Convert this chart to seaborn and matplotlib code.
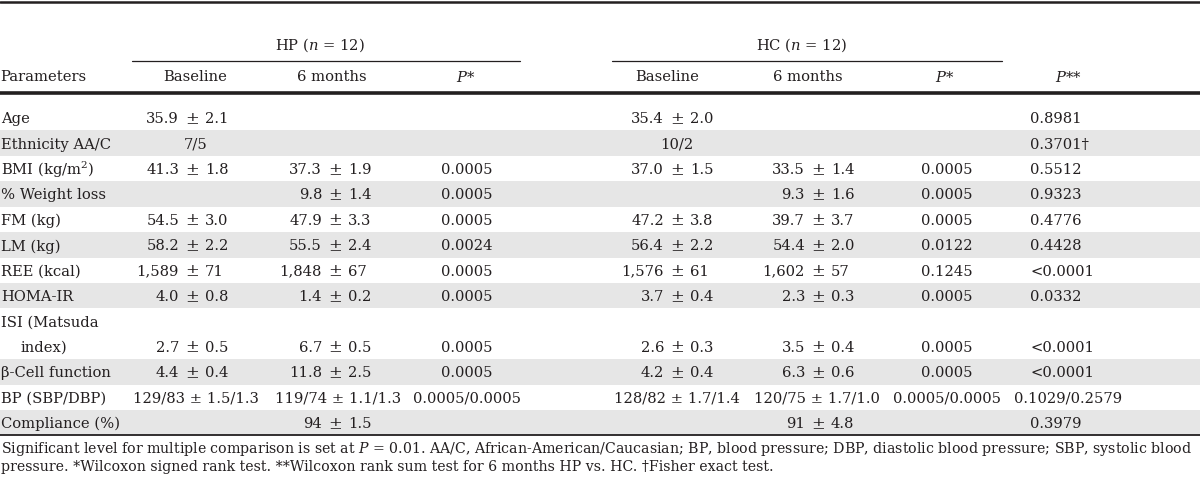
import matplotlib
matplotlib.use("Agg")
import matplotlib.pyplot as plt
import seaborn as sns

# ---------------- data ----------------
parameters = ["Age", "Ethnicity AA/C", "BMI (kg/m$^2$)", "% Weight loss", "FM (kg)", "LM (kg)",
              "REE (kcal)", "HOMA-IR", "ISI (Matsuda\nindex)", "β-Cell function", "BP (SBP/DBP)",
              "Compliance (%)"]
hp_baseline = ["35.9 ± 2.1", "7/5", "41.3 ± 1.8", "", "54.5 ± 3.0", "58.2 ± 2.2", "1,589 ± 71",
               "4.0 ± 0.8", "2.7 ± 0.5", "4.4 ± 0.4", "129/83 ± 1.5/1.3", ""]
hp_6months = ["", "", "37.3 ± 1.9", "9.8 ± 1.4", "47.9 ± 3.3", "55.5 ± 2.4", "1,848 ± 67",
              "1.4 ± 0.2", "6.7 ± 0.5", "11.8 ± 2.5", "119/74 ± 1.1/1.3", "94 ± 1.5"]
hp_p = ["", "", "0.0005", "0.0005", "0.0005", "0.0024", "0.0005", "0.0005", "0.0005", "0.0005",
        "0.0005/0.0005", ""]
hc_baseline = ["35.4 ± 2.0", "10/2", "37.0 ± 1.5", "", "47.2 ± 3.8", "56.4 ± 2.2", "1,576 ± 61",
               "3.7 ± 0.4", "2.6 ± 0.3", "4.2 ± 0.4", "128/82 ± 1.7/1.4", ""]
hc_6months = ["", "", "33.5 ± 1.4", "9.3 ± 1.6", "39.7 ± 3.7", "54.4 ± 2.0", "1,602 ± 57",
              "2.3 ± 0.3", "3.5 ± 0.4", "6.3 ± 0.6", "120/75 ± 1.7/1.0", "91 ± 4.8"]
hc_p = ["", "", "0.0005", "0.0005", "0.0005", "0.0122", "0.1245", "0.0005", "0.0005", "0.0005",
        "0.0005/0.0005", ""]
p_between = ["0.8981", "0.3701†", "0.5512", "0.9323", "0.4776", "0.4428", "<0.0001", "0.0332",
             "<0.0001", "<0.0001", "0.1029/0.2579", "0.3979"]
group_titles = ["HP ($n$ = 12)", "HC ($n$ = 12)"]
column_labels = ["Parameters", "Baseline", "6 months", "$P$*", "Baseline", "6 months", "$P$*", "$P$**"]
footnote_lines = [
    "Significant level for multiple comparison is set at $P$ = 0.01. AA/C, African-American/Caucasian; "
    "BP, blood pressure; DBP, diastolic blood pressure; SBP, systolic blood",
    "pressure. *Wilcoxon signed rank test. **Wilcoxon rank sum test for 6 months HP vs. HC. "
    "†Fisher exact test.",
]

# ---------------- style ----------------
sns.set_theme(style="white")
plt.rcParams["font.family"] = ["DejaVu Serif"]
plt.rcParams["mathtext.fontset"] = "dejavuserif"
TXT = "#231f20"
SHADE = "#e6e6e6"
FS = 10.6

fig = plt.figure(figsize=(12, 4.96), dpi=100)
ax = fig.add_axes([0, 0, 1, 1])
ax.set_xlim(0, 1200)
ax.set_ylim(496, 0)
ax.axis("off")

# rules
ax.plot([0, 1200], [1.5, 1.5], color=TXT, lw=1.8)
ax.plot([132, 520], [61, 61], color=TXT, lw=0.9)
ax.plot([612, 1002], [61, 61], color=TXT, lw=0.9)
ax.plot([0, 1200], [93, 93], color=TXT, lw=2.6)

# header
ax.text(320, 45, group_titles[0], ha="center", va="center", fontsize=FS, color=TXT)
ax.text(802, 45, group_titles[1], ha="center", va="center", fontsize=FS, color=TXT)
header_x = [0, 195, 332, 466, 667, 808, 945, 1068]
for i, (lab, x) in enumerate(zip(column_labels, header_x)):
    ax.text(x, 77, lab, ha="left" if i == 0 else "center", va="center", fontsize=FS, color=TXT)

# rows
top0, rh = 105.0, 25.42
spans = [2 if "\n" in p else 1 for p in parameters]
shade_flags = [False, True, False, True, False, True, False, True, False, True, False, True]

pm_x = [192, 335, 677, 818]
center_x = [196, 338, 677, 817]
value_cols = [hp_baseline, hp_6months, hc_baseline, hc_6months]
GAP = 13.0

slot = 0
for r, name in enumerate(parameters):
    top = top0 + slot * rh
    bottom = top + spans[r] * rh
    if shade_flags[r]:
        ax.axhspan(top, bottom, color=SHADE, lw=0, zorder=0)
    yv = bottom - rh / 2 + 1.5
    lines = name.split("\n")
    for k, ln in enumerate(lines):
        ax.text(1 + (20 if k > 0 else 0), top + rh * k + rh / 2 + 1.5, ln, ha="left",
                va="center", fontsize=FS, color=TXT)
    for c, col in enumerate(value_cols):
        s = col[r]
        if not s:
            continue
        if "±" in s and "/" not in s:
            left, right = s.split(" ± ")
            ax.text(pm_x[c] - GAP, yv, left, ha="right", va="center", fontsize=FS, color=TXT)
            ax.text(pm_x[c], yv, "±", ha="center", va="center", fontsize=FS + 1.2, color=TXT)
            ax.text(pm_x[c] + GAP, yv, right, ha="left", va="center", fontsize=FS, color=TXT)
        else:
            ax.text(center_x[c], yv, s, ha="center", va="center", fontsize=FS, color=TXT)
    for x, col in ((467, hp_p), (947, hc_p)):
        if col[r]:
            ax.text(x, yv, col[r], ha="center", va="center", fontsize=FS, color=TXT)
    s = p_between[r]
    if "/" in s:
        ax.text(1068, yv, s, ha="center", va="center", fontsize=FS, color=TXT)
    else:
        ax.text(1030, yv, s, ha="left", va="center", fontsize=FS, color=TXT)
    slot += spans[r]

bottom_rule = top0 + slot * rh
ax.plot([0, 1200], [bottom_rule, bottom_rule], color=TXT, lw=1.3)

for k, ln in enumerate(footnote_lines):
    ax.text(1, 449 + 18 * k, ln, ha="left", va="center", fontsize=10.2, color=TXT)

fig.savefig("out.png", dpi=100)
